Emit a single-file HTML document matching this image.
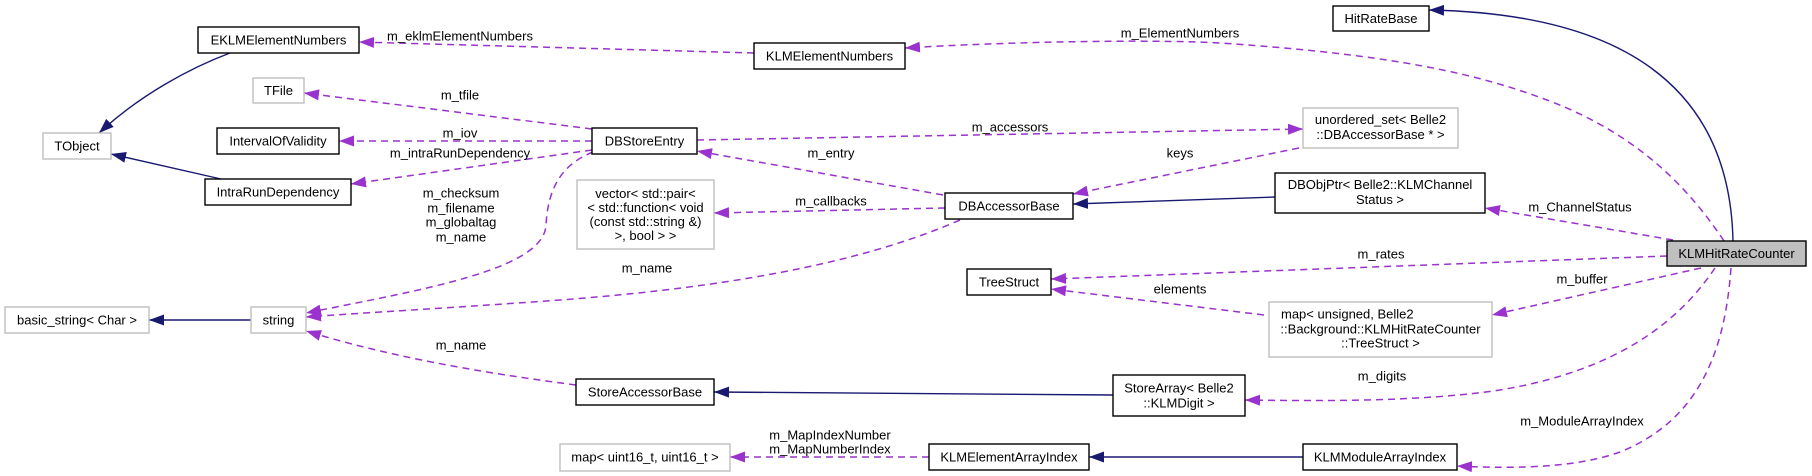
<!DOCTYPE html>
<html><head><meta charset="utf-8">
<style>
html,body{margin:0;padding:0;background:#fff;}
svg{display:block;}
text{font-family:"Liberation Sans",Arial,sans-serif;font-size:13px;fill:#000;}
</style></head>
<body>
<svg width="1812" height="476" viewBox="0 0 1812 476" xmlns="http://www.w3.org/2000/svg">
<defs>
<marker id="pa" markerUnits="userSpaceOnUse" markerWidth="15" markerHeight="11" refX="15" refY="5.5" orient="auto">
<path d="M0,0 L15,5.5 L0,11 z" fill="#9a32cd"/>
</marker>
<marker id="na" markerUnits="userSpaceOnUse" markerWidth="15" markerHeight="11" refX="15" refY="5.5" orient="auto">
<path d="M0,0 L15,5.5 L0,11 z" fill="#191970"/>
</marker>
</defs>

<!-- inheritance edges (navy) -->
<g fill="none" stroke="#191970" stroke-width="1.4" marker-end="url(#na)">
<path d="M230,53 C190,68 140,95 99,133"/>
<path d="M221,179 L111,154"/>
<path d="M251,320 L149,320"/>
<path d="M1113,395 L714,392"/>
<path d="M1303,457 L1089,457"/>
<path d="M1275,197 L1073,204"/>
<path d="M1733,241 C1730,100 1640,14 1429,10"/>
</g>

<!-- member edges (purple dashed) -->
<g fill="none" stroke="#9a32cd" stroke-width="1.5" stroke-dasharray="7,5" marker-end="url(#pa)">
<path d="M754,53 L359,42"/>
<path d="M1724,241 C1690,190 1640,135 1547,100 C1480,75 1400,55 1220,43 C1150,39 1000,42 905,48"/>
<path d="M592,129 L304,93"/>
<path d="M592,141 L339,141"/>
<path d="M592,150 L351,184"/>
<path d="M593,152 C560,165 548,190 546,225 C544,270 420,290 306,313"/>
<path d="M960,220 C880,255 760,285 560,300 C450,308 360,313 306,317"/>
<path d="M576,385 C500,375 400,360 306,331"/>
<path d="M697,140 L1303,129"/>
<path d="M1299,148 L1073,194"/>
<path d="M943,195 L697,151"/>
<path d="M945,208 L714,213"/>
<path d="M1673,240 L1485,208"/>
<path d="M1667,256 L1051,279"/>
<path d="M1264,315 L1051,289"/>
<path d="M1701,268 L1492,315"/>
<path d="M1715,268 C1680,320 1620,370 1500,390 C1420,402 1320,401 1245,400"/>
<path d="M1731,268 C1725,350 1700,420 1620,452 C1570,470 1500,468 1457,466"/>
<path d="M929,457 L730,457"/>
</g>

<!-- nodes -->
<g stroke-width="1.4">
<rect x="198" y="27" width="161" height="26" fill="#fff" stroke="#000"/>
<rect x="754" y="43" width="151" height="26" fill="#fff" stroke="#000"/>
<rect x="1333" y="6" width="96" height="25" fill="#fff" stroke="#000"/>
<rect x="253" y="78" width="51" height="25" fill="#fff" stroke="#bfbfbf"/>
<rect x="43" y="133" width="68" height="26" fill="#fff" stroke="#bfbfbf"/>
<rect x="217" y="128" width="122" height="26" fill="#fff" stroke="#000"/>
<rect x="592" y="128" width="105" height="26" fill="#fff" stroke="#000"/>
<rect x="205" y="179" width="146" height="26" fill="#fff" stroke="#000"/>
<rect x="1303" y="108" width="155" height="40" fill="#fff" stroke="#bfbfbf"/>
<rect x="1275" y="173" width="210" height="40" fill="#fff" stroke="#000"/>
<rect x="577" y="180" width="137" height="69" fill="#fff" stroke="#bfbfbf"/>
<rect x="945" y="193" width="128" height="26" fill="#fff" stroke="#000"/>
<rect x="1667" y="241" width="139" height="25" fill="#bfbfbf" stroke="#000"/>
<rect x="967" y="269" width="84" height="26" fill="#fff" stroke="#000"/>
<rect x="1269" y="302" width="223" height="55" fill="#fff" stroke="#bfbfbf"/>
<rect x="5" y="307" width="144" height="26" fill="#fff" stroke="#bfbfbf"/>
<rect x="251" y="307" width="55" height="26" fill="#fff" stroke="#bfbfbf"/>
<rect x="576" y="379" width="138" height="26" fill="#fff" stroke="#000"/>
<rect x="1113" y="375" width="132" height="41" fill="#fff" stroke="#000"/>
<rect x="560" y="444" width="170" height="27" fill="#fff" stroke="#bfbfbf"/>
<rect x="929" y="444" width="160" height="26" fill="#fff" stroke="#000"/>
<rect x="1303" y="444" width="154" height="26" fill="#fff" stroke="#000"/>
</g>

<!-- node labels -->
<g text-anchor="middle">
<text x="278.5" y="44.5">EKLMElementNumbers</text>
<text x="829.5" y="60.5">KLMElementNumbers</text>
<text x="1381" y="23">HitRateBase</text>
<text x="278.5" y="95">TFile</text>
<text x="77" y="150.5">TObject</text>
<text x="278" y="145.5">IntervalOfValidity</text>
<text x="644.5" y="145.5">DBStoreEntry</text>
<text x="278" y="196.5">IntraRunDependency</text>
<text x="1380.5" y="124">unordered_set&lt; Belle2</text>
<text x="1380.5" y="139">::DBAccessorBase * &gt;</text>
<text x="1380" y="189">DBObjPtr&lt; Belle2::KLMChannel</text>
<text x="1380" y="204">Status &gt;</text>
<text x="645.5" y="198">vector&lt; std::pair&lt;</text>
<text x="645.5" y="212">&lt; std::function&lt; void</text>
<text x="645.5" y="226">(const std::string &amp;)</text>
<text x="645.5" y="240">&gt;, bool &gt; &gt;</text>
<text x="1009" y="210.5">DBAccessorBase</text>
<text x="1736.5" y="258">KLMHitRateCounter</text>
<text x="1009" y="286.5">TreeStruct</text>
<text x="1380.5" y="333.5">::Background::KLMHitRateCounter</text>
<text x="1380.5" y="347.5">::TreeStruct &gt;</text>
<text x="77" y="324.5">basic_string&lt; Char &gt;</text>
<text x="278.5" y="324.5">string</text>
<text x="645" y="396.5">StoreAccessorBase</text>
<text x="1179" y="392.5">StoreArray&lt; Belle2</text>
<text x="1179" y="407.5">::KLMDigit &gt;</text>
<text x="645" y="461.5">map&lt; uint16_t, uint16_t &gt;</text>
<text x="1009" y="461.5">KLMElementArrayIndex</text>
<text x="1380" y="461.5">KLMModuleArrayIndex</text>
</g>
<text x="1281" y="318.5">map&lt; unsigned, Belle2</text>

<!-- edge labels -->
<g text-anchor="middle">
<text x="460" y="40.5">m_eklmElementNumbers</text>
<text x="1180" y="37.5">m_ElementNumbers</text>
<text x="460" y="99.5">m_tfile</text>
<text x="460" y="137.5">m_iov</text>
<text x="460" y="157.5">m_intraRunDependency</text>
<text x="1010" y="131.5">m_accessors</text>
<text x="1180" y="157.5">keys</text>
<text x="831" y="157.5">m_entry</text>
<text x="831" y="205.5">m_callbacks</text>
<text x="461" y="197.5">m_checksum</text>
<text x="461" y="212.5">m_filename</text>
<text x="461" y="226.5">m_globaltag</text>
<text x="461" y="241.5">m_name</text>
<text x="1580" y="211.5">m_ChannelStatus</text>
<text x="1381" y="258.5">m_rates</text>
<text x="647" y="272.5">m_name</text>
<text x="1582" y="283.5">m_buffer</text>
<text x="1180" y="293.5">elements</text>
<text x="461" y="349.5">m_name</text>
<text x="1382" y="380.5">m_digits</text>
<text x="1582" y="425.5">m_ModuleArrayIndex</text>
<text x="830" y="439.5">m_MapIndexNumber</text>
<text x="830" y="453.5">m_MapNumberIndex</text>
</g>
</svg>
</body></html>
